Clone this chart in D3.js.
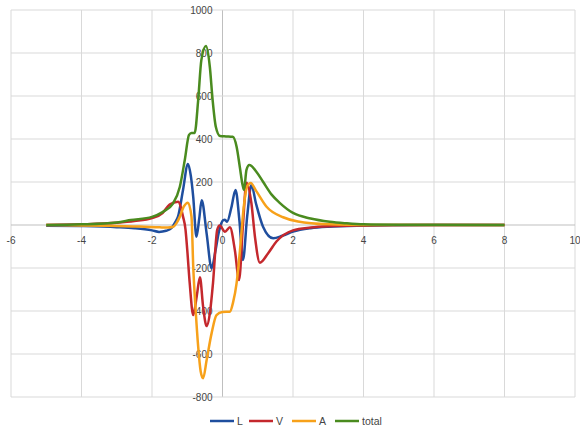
<!DOCTYPE html>
<html>
<head>
<meta charset="utf-8">
<script src="https://cdn.jsdelivr.net/npm/d3@7"></script>
<style>
  body { margin: 0; background: #fff; }
  text { font-family: "Liberation Sans", Arial, sans-serif; fill: #454545; }
</style>
</head>
<body>
<div id="chart"></div>
<script>
// tick values
var xTicks = [-6, -4, -2, 0, 2, 4, 6, 8, 10];
var yTicks = [-800, -600, -400, -200, 0, 200, 400, 600, 800, 1000];

// series
var lX = [-5, -4, -3, -2.5, -2, -1.8, -1.6, -1.45, -1.35, -1.26, -1.12, -0.98, -0.9, -0.83, -0.74, -0.66, -0.59, -0.45, -0.31, -0.2, -0.1, 0.02, 0.07, 0.13, 0.25, 0.37, 0.48, 0.58, 0.7, 0.82, 0.95, 1.15, 1.44, 1.7, 2.0, 2.5, 3, 4, 5, 6, 7, 8];
var lY = [-3, -5, -10, -15, -25, -32, -27, -15, 10, 40, 163, 284, 230, 130, -55, 30, 115, -40, -201, -120, -30, 23, 25, 15, 80, 163, 20, -163, 40, 186, 100, -8, -62, -50, -31, -15, -8, -3, -1, 0, 0, 0];

var vX = [-5, -4, -3, -2.5, -2, -1.7, -1.5, -1.26, -1.12, -1.05, -1.0, -0.93, -0.83, -0.73, -0.64, -0.55, -0.45, -0.35, -0.27, -0.15, -0.08, 0.07, 0.21, 0.35, 0.47, 0.58, 0.68, 0.82, 0.92, 1.06, 1.3, 1.53, 2.0, 2.5, 3, 4, 5, 6, 8];
var vY = [0, 3, 10, 18, 32, 56, 95, 108, 39, -20, -116, -271, -419, -330, -243, -380, -470, -400, -271, -23, -2, -31, -11, -116, -256, 0, 197, 101, -54, -175, -130, -77, -25, -12, -6, -2, 0, 0, 0];

var aX = [-5, -4, -3, -2.35, -1.78, -1.55, -1.4, -1.3, -1.21, -1.1, -0.98, -0.88, -0.83, -0.76, -0.69, -0.62, -0.55, -0.45, -0.31, -0.17, 0.0, 0.21, 0.3, 0.4, 0.5, 0.6, 0.7, 0.8, 0.95, 1.25, 1.72, 2.14, 3, 4, 5, 8];
var aY = [0, -2, -5, -7, -11, -12, -8, 10, 39, 85, 104, 39, -194, -400, -566, -680, -713, -628, -504, -419, -405, -403, -360, -270, -110, 80, 180, 195, 160, 85, 36, 16, 3, 0, 0, 0];

var tX = [-5, -4, -3, -2.6, -2, -1.7, -1.4, -1.21, -1.07, -0.95, -0.88, -0.79, -0.69, -0.6, -0.47, -0.36, -0.28, -0.19, -0.07, 0.1, 0.29, 0.4, 0.49, 0.57, 0.61, 0.68, 0.76, 0.96, 1.15, 1.4, 1.63, 2.0, 2.5, 3.04, 3.5, 4, 5, 8];
var tY = [0, 3, 12, 23, 38, 60, 101, 178, 302, 419, 428, 428, 581, 767, 832, 736, 581, 457, 414, 412, 410, 364, 271, 186, 163, 256, 279, 248, 201, 140, 102, 56, 30, 15, 8, 3, 1, 0];

var seriesNames = ["L", "V", "A", "total"];
var seriesColors = ["#1f4e9e", "#c4282d", "#f7a11a", "#4a8b1f"];

var series = [
    {name: seriesNames[0], xs: lX, ys: lY},
    {name: seriesNames[1], xs: vX, ys: vY},
    {name: seriesNames[2], xs: aX, ys: aY},
    {name: seriesNames[3], xs: tX, ys: tY}
];

var width = 580, height = 430;

var svg = d3.select("#chart")
    .append("svg")
    .attr("width", width)
    .attr("height", height);

var x = d3.scaleLinear().domain([-6, 10]).range([11, 575]);
var y = d3.scaleLinear().domain([-800, 1000]).range([397, 10]);

// grid
svg.append("g").selectAll("line")
    .data(xTicks)
    .enter()
    .append("line")
    .attr("x1", d => x(d)).attr("x2", d => x(d))
    .attr("y1", y(1000)).attr("y2", y(-800))
    .attr("stroke", d => d === 0 ? "#bfbfbf" : "#d9d9d9")
    .attr("stroke-width", 1);

svg.append("g").selectAll("line")
    .data(yTicks)
    .enter()
    .append("line")
    .attr("x1", x(-6)).attr("x2", x(10))
    .attr("y1", d => y(d)).attr("y2", d => y(d))
    .attr("stroke", d => d === 0 ? "#bfbfbf" : "#d9d9d9")
    .attr("stroke-width", 1);

// tick labels
svg.append("g").selectAll("text")
    .data(xTicks)
    .enter()
    .append("text")
    .attr("x", d => x(d))
    .attr("y", y(0) + 19)
    .attr("text-anchor", "middle")
    .style("font-size", "10px")
    .text(d => d);

svg.append("g").selectAll("text")
    .data(yTicks)
    .enter()
    .append("text")
    .attr("x", x(0) - 10)
    .attr("y", d => y(d) + 3.5)
    .attr("text-anchor", "end")
    .style("font-size", "10px")
    .text(d => d);

// lines
var line = d3.line()
    .x(d => x(d[0]))
    .y(d => y(d[1]))
    .curve(d3.curveMonotoneX);

svg.append("g").selectAll("path")
    .data(series)
    .enter()
    .append("path")
    .attr("d", s => line(s.xs.map((v, i) => [v, s.ys[i]])))
    .attr("fill", "none")
    .attr("stroke", (s, i) => seriesColors[i])
    .attr("stroke-width", 2.5)
    .attr("stroke-linejoin", "round");

// legend
var legendX = [210, 249, 292, 335];
var legend = svg.append("g").selectAll("g")
    .data(series)
    .enter()
    .append("g")
    .attr("transform", (s, i) => "translate(" + legendX[i] + ",421)");

legend.append("line")
    .attr("x1", 0).attr("x2", 24)
    .attr("stroke", (s, i) => seriesColors[i])
    .attr("stroke-width", 2.5);

legend.append("text")
    .attr("x", 27)
    .attr("y", 4)
    .style("font-size", "10.5px")
    .text(s => s.name);
</script>
</body>
</html>
